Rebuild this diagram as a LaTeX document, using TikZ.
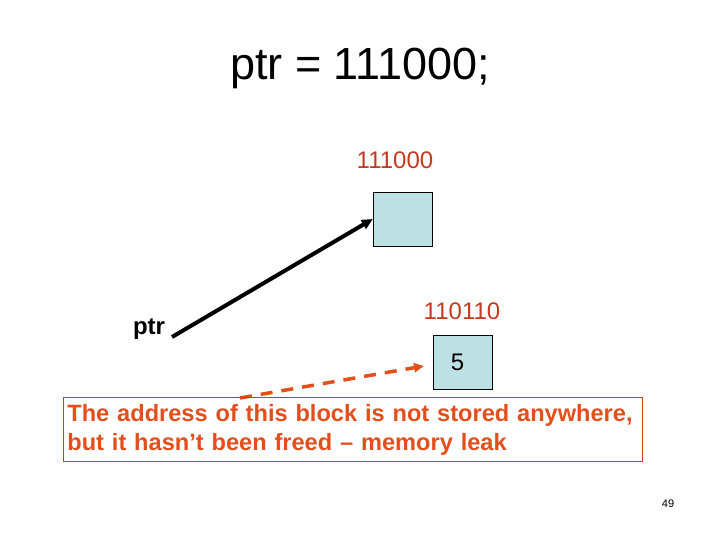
\documentclass[tikz,border=0pt]{standalone}
\usepackage{fontspec}
\setmainfont{Liberation Sans}
\usetikzlibrary{arrows.meta, positioning}

\definecolor{cellblue}{RGB}{188,224,228}
\definecolor{addrred}{RGB}{196,58,30}
\definecolor{leakred}{RGB}{226,78,28}

\begin{document}
\begin{tikzpicture}[x=1pt, y=-1pt,
    cell/.style={rectangle, draw, fill=cellblue, minimum width=59pt, minimum height=54pt, inner sep=0pt},
    addr/.style={font=\fontsize{24}{28}\selectfont, text=addrred},
    arrow/.style={-{Triangle[length=11pt, width=10pt]}, line width=4pt},
    leak/.style={-{Triangle[length=10pt, width=9pt]}, line width=3.5pt, leakred, dash pattern=on 12pt off 9pt},
    note/.style={draw=leakred!85!black, line width=0.8pt, text=leakred, align=left, font=\fontsize{23.6}{29}\selectfont\bfseries, inner xsep=4pt, inner ysep=5.5pt, anchor=north west, text width=571pt, minimum height=64pt},
]
\useasboundingbox (0,0) rectangle (720,540);

\node[font=\fontsize{45}{50}\selectfont] (title) at (360,68) {ptr = 111000;};

\node[cell] (block1) at (402.5,219) {};
\node[addr] (addr1) at (395,160) {111000};

\node[cell, font=\fontsize{24}{28}\selectfont] (block2) at (462.5,362.5) {\hspace*{-10pt}5};
\node[addr] (addr2) at (462,311) {110110};

\node[font=\fontsize{24}{28}\selectfont\bfseries] (ptr) at (149,329) {ptr};

\coordinate (ptrout) at (172,337);
\coordinate (leakstart) at (240,398);
\coordinate (leakend) at (424,366);

\draw[arrow] (ptrout) -- (block1.west);
\draw[leak] (leakstart) -- (leakend);

\node[note] (msg) at (63,397) {The address of this block is not stored anywhere,\\but it hasn’t been freed -- memory leak};

\node[font=\fontsize{11}{13}\selectfont] (page) at (668,504) {49};

\end{tikzpicture}
\end{document}
